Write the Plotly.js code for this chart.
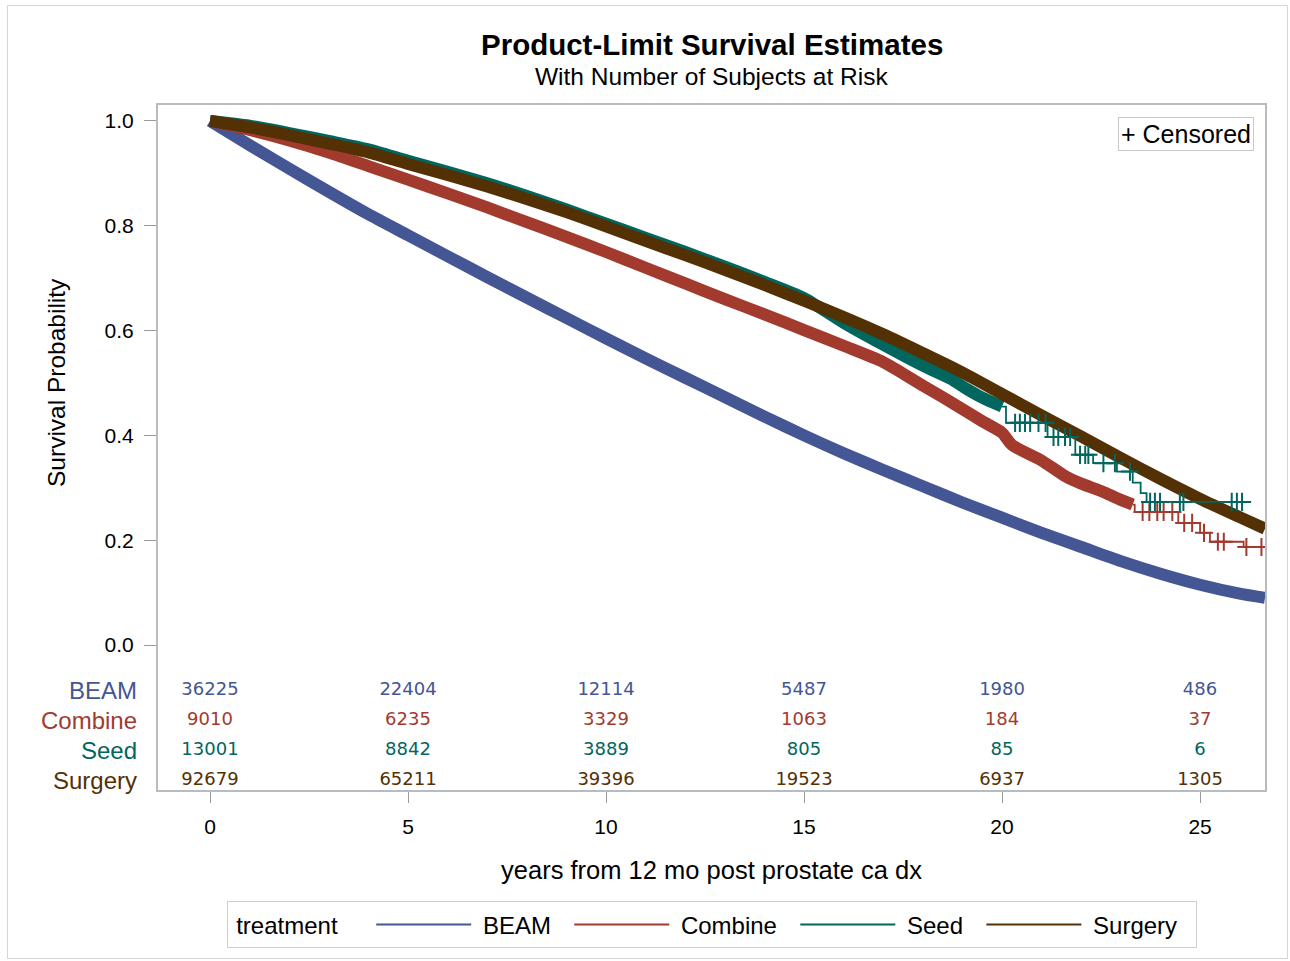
<!DOCTYPE html>
<html>
<head>
<meta charset="utf-8">
<script src="https://cdn.plot.ly/plotly-3.0.1.min.js"></script>
<style>
html,body{margin:0;padding:0;background:#ffffff;}
#chart{width:1290px;height:961px;}
</style>
</head>
<body>
<div id="chart"></div>
<script>
// ---------- data ----------
const groupNames = ['BEAM', 'Combine', 'Seed', 'Surgery'];

const beamTime = [0, 1, 2, 3, 4, 5, 6, 7, 8, 9, 10, 11, 12, 13, 14, 15, 16, 17, 18, 19, 20, 21, 22, 23, 24, 25, 26, 26.64];
const beamSurv = [1, 0.954, 0.909, 0.865, 0.822, 0.782, 0.742, 0.702, 0.663, 0.624, 0.585, 0.547, 0.51, 0.473, 0.436, 0.4, 0.366, 0.334, 0.303, 0.272, 0.243, 0.214, 0.187, 0.16, 0.136, 0.115, 0.098, 0.09];

const combineTime = [0, 1, 2, 3, 4, 5, 6, 7, 8, 9, 10, 11, 12, 13, 14, 15, 16, 17, 17.5, 18, 18.5, 19, 19.5, 20, 20.25, 21, 21.6, 22, 22.5, 23, 23.3, 23.35, 24.45, 25, 25.25, 26.1, 26.64];
const combineSurv = [1, 0.983, 0.963, 0.94, 0.914, 0.888, 0.862, 0.835, 0.807, 0.779, 0.75, 0.72, 0.69, 0.66, 0.631, 0.601, 0.571, 0.54, 0.518, 0.495, 0.473, 0.45, 0.427, 0.405, 0.382, 0.352, 0.322, 0.308, 0.294, 0.277, 0.268, 0.254, 0.233, 0.214, 0.197, 0.187, 0.187];

const seedTime = [0, 1, 2, 3, 4, 5, 6, 7, 8, 9, 10, 11, 12, 13, 14, 15, 16, 17, 18, 18.7, 19.1, 19.5, 20, 20.1, 21.15, 21.85, 22.3, 22.9, 23.3, 23.5, 23.65, 26.06];
const seedSurv = [1, 0.991, 0.977, 0.962, 0.946, 0.924, 0.903, 0.881, 0.857, 0.831, 0.804, 0.777, 0.75, 0.722, 0.693, 0.662, 0.615, 0.573, 0.533, 0.508, 0.489, 0.472, 0.455, 0.424, 0.397, 0.363, 0.347, 0.331, 0.31, 0.29, 0.273, 0.273];

const surgeryTime = [0, 1, 2, 3, 4, 5, 6, 7, 8, 9, 10, 11, 12, 13, 14, 15, 16, 17, 18, 19, 20, 21, 22, 23, 24, 25, 26, 26.64];
const surgerySurv = [1, 0.988, 0.973, 0.957, 0.94, 0.918, 0.897, 0.875, 0.851, 0.826, 0.799, 0.771, 0.744, 0.716, 0.687, 0.657, 0.626, 0.593, 0.557, 0.52, 0.479, 0.438, 0.398, 0.357, 0.317, 0.279, 0.244, 0.222];

// time up to which censoring marks are so dense they merge into a band
const beamDenseUntil = 26.64;
const combineDenseUntil = 23.3;
const seedDenseUntil = 20.0;
const surgeryDenseUntil = 26.64;

// individually visible censoring marks in the sparse tails
const combineCensTime = [23.55, 23.72, 23.92, 24.08, 24.3, 24.6, 24.8, 25.1, 25.45, 25.6, 26.17, 26.55];
const combineCensSurv = [0.254, 0.254, 0.254, 0.254, 0.254, 0.233, 0.233, 0.214, 0.197, 0.197, 0.187, 0.187];
const seedCensTime = [20.33, 20.45, 20.58, 20.71, 20.92, 21.1, 21.3, 21.42, 21.59, 21.72, 21.97, 22.1, 22.18, 22.56, 22.85, 23.23, 23.74, 23.86, 23.99, 24.49, 24.58, 25.8, 25.93, 26.06];
const seedCensSurv = [0.424, 0.424, 0.424, 0.424, 0.424, 0.424, 0.397, 0.397, 0.397, 0.397, 0.363, 0.363, 0.363, 0.347, 0.347, 0.331, 0.273, 0.273, 0.273, 0.273, 0.273, 0.273, 0.273, 0.273];

// number at risk table
const riskTimes = [0, 5, 10, 15, 20, 25];
const beamRisk = [36225, 22404, 12114, 5487, 1980, 486];
const combineRisk = [9010, 6235, 3329, 1063, 184, 37];
const seedRisk = [13001, 8842, 3889, 805, 85, 6];
const surgeryRisk = [92679, 65211, 39396, 19523, 6937, 1305];

const xTickVals = [0, 5, 10, 15, 20, 25];
const yTickVals = [0, 0.2, 0.4, 0.6, 0.8, 1.0];
const yTickText = ['0.0', '0.2', '0.4', '0.6', '0.8', '1.0'];

// ---------- styling ----------
const colors = ['#445694', '#A23A2E', '#01665E', '#543005'];
const FONT = 'Liberation Sans, Arial, sans-serif';
const NUMFONT = 'DejaVu Sans, sans-serif';
const NB = '\u00A0';

const times = [beamTime, combineTime, seedTime, surgeryTime];
const survs = [beamSurv, combineSurv, seedSurv, surgerySurv];
const denseUntil = [beamDenseUntil, combineDenseUntil, seedDenseUntil, surgeryDenseUntil];
const risks = [beamRisk, combineRisk, seedRisk, surgeryRisk];

// y (data units) of each at-risk row, below 0
const rowY = [-0.0875, -0.1447, -0.202, -0.2592];

const traces = [];

// dense bands of overlapping censor marks
groupNames.forEach((g, i) => {
  const bx = [], by = [];
  times[i].forEach((t, k) => { if (t <= denseUntil[i] + 1e-9) { bx.push(t); by.push(survs[i][k]); } });
  traces.push({
    x: bx, y: by, type: 'scatter', mode: 'lines',
    line: {color: colors[i], width: 12, shape: 'spline', smoothing: 0.7},
    showlegend: false, hoverinfo: 'skip', legendgroup: g
  });
});

// sparse step tails
groupNames.forEach((g, i) => {
  const tx = [], ty = [];
  times[i].forEach((t, k) => { if (t >= denseUntil[i] - 1e-9) { tx.push(t); ty.push(survs[i][k]); } });
  if (tx.length > 1) {
    traces.push({
      x: tx, y: ty, type: 'scatter', mode: 'lines',
      line: {color: colors[i], width: 1.8, shape: 'hv'},
      showlegend: false, hoverinfo: 'skip', legendgroup: g
    });
  }
});

// censor marks
[[combineCensTime, combineCensSurv, 1], [seedCensTime, seedCensSurv, 2]].forEach(([cx, cy, i]) => {
  traces.push({
    x: cx, y: cy, type: 'scatter', mode: 'markers',
    marker: {symbol: 'cross-thin-open', size: 13, color: colors[i], line: {color: colors[i], width: 2}},
    showlegend: false, hoverinfo: 'skip', legendgroup: groupNames[i]
  });
});

// at-risk numbers
groupNames.forEach((g, i) => {
  traces.push({
    x: riskTimes, y: riskTimes.map(() => rowY[i]),
    text: risks[i].map(String), type: 'scatter', mode: 'text',
    textposition: 'middle center',
    textfont: {family: NUMFONT, size: 18, color: colors[i]},
    cliponaxis: false, showlegend: false, hoverinfo: 'skip'
  });
});

// legend entries
groupNames.forEach((g, i) => {
  traces.push({
    x: [null], y: [null], type: 'scatter', mode: 'lines', name: NB + g + NB + NB,
    line: {color: colors[i], width: 2}, legendgroup: g, showlegend: true
  });
});

const annotations = [
  {text: '<b>Product-Limit Survival Estimates</b>', xref: 'paper', yref: 'paper', x: 0.5, y: 1.0876,
   xanchor: 'center', yanchor: 'middle', showarrow: false, font: {family: FONT, size: 29.5, color: '#000'}},
  {text: 'With Number of Subjects at Risk', xref: 'paper', yref: 'paper', x: 0.5, y: 1.0423,
   xanchor: 'center', yanchor: 'middle', showarrow: false, font: {family: FONT, size: 24.5, color: '#000'}},
  {text: '+ Censored', xref: 'paper', yref: 'paper', x: 1, y: 1, xanchor: 'right', yanchor: 'top',
   xshift: -11, yshift: -12, showarrow: false, font: {family: FONT, size: 25, color: '#000'},
   bordercolor: '#c9c9c9', borderwidth: 1, borderpad: 2, bgcolor: '#ffffff'},
  {text: 'Survival Probability', xref: 'paper', yref: 'y', x: 0, y: 0.5, xanchor: 'center', yanchor: 'middle',
   xshift: -101, textangle: -90, showarrow: false, font: {family: FONT, size: 24.5, color: '#000'}}
];
groupNames.forEach((g, i) => {
  annotations.push({
    text: g, xref: 'paper', yref: 'y', x: 0, y: rowY[i], xanchor: 'right', yanchor: 'middle',
    xshift: -19, showarrow: false, font: {family: FONT, size: 24, color: colors[i]}
  });
});

const layout = {
  width: 1290, height: 961,
  margin: {l: 158, r: 25, t: 105, b: 171, pad: 0},
  paper_bgcolor: '#ffffff', plot_bgcolor: '#ffffff',
  font: {family: FONT, color: '#000'},
  showlegend: true,
  xaxis: {
    range: [-1.313, 26.64], tickvals: xTickVals, ticks: 'outside', ticklen: 11, tickwidth: 1,
    tickcolor: '#9a9a9a', showline: true, mirror: true, linecolor: '#b6bcc0', linewidth: 2,
    showgrid: false, zeroline: false, ticklabelstandoff: 6,
    tickfont: {family: FONT, size: 21, color: '#000'},
    title: {text: 'years from 12 mo post prostate ca dx', font: {family: FONT, size: 25.5, color: '#000'}, standoff: 24}
  },
  yaxis: {
    range: [-0.2767, 1.0305], tickvals: yTickVals, ticktext: yTickText, ticks: 'outside', ticklen: 12,
    tickwidth: 1, tickcolor: '#9a9a9a', showline: true, mirror: true, linecolor: '#b6bcc0', linewidth: 2,
    showgrid: false, zeroline: false, ticklabelstandoff: 6,
    tickfont: {family: FONT, size: 21, color: '#000'}
  },
  legend: {
    orientation: 'h', x: 0.5, xanchor: 'center', y: -0.197, yanchor: 'middle',
    bordercolor: '#cfcfcf', borderwidth: 1, bgcolor: '#ffffff',
    font: {family: FONT, size: 24, color: '#000'}, itemwidth: 95,
    title: {text: NB + 'treatment' + NB + NB + NB + NB, side: 'left', font: {family: FONT, size: 24, color: '#000'}}
  },
  annotations: annotations,
  shapes: [{
    type: 'rect', xref: 'paper', yref: 'paper', x0: -0.136, x1: 1.0203, y0: -0.246, y1: 1.1453,
    line: {color: '#d4d4d4', width: 1}, fillcolor: 'rgba(0,0,0,0)', layer: 'below'
  }]
};

Plotly.newPlot('chart', traces, layout, {displayModeBar: false, responsive: false});
</script>
</body>
</html>
